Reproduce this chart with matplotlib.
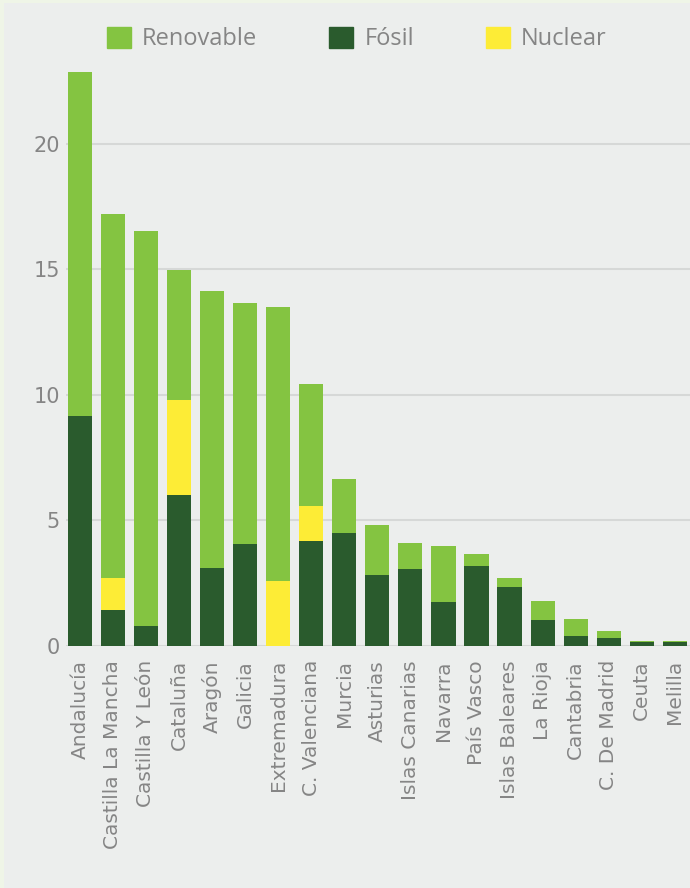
import matplotlib
matplotlib.use("Agg")
import matplotlib.pyplot as plt
from matplotlib.patches import Patch, Rectangle

regiones = ["Andalucía", "Castilla La Mancha", "Castilla Y León", "Cataluña",
            "Aragón", "Galicia", "Extremadura", "C. Valenciana", "Murcia",
            "Asturias", "Islas Canarias", "Navarra", "País Vasco",
            "Islas Baleares", "La Rioja", "Cantabria", "C. De Madrid",
            "Ceuta", "Melilla"]
fosil = [9.15, 1.41, 0.76, 5.98, 3.10, 4.05, 0.0, 4.18, 4.49, 2.80, 3.03,
         1.74, 3.18, 2.34, 1.02, 0.39, 0.31, 0.15, 0.15]
nuclear = [0, 1.26, 0, 3.82, 0, 0, 2.55, 1.36, 0, 0, 0, 0, 0, 0, 0, 0, 0, 0, 0]
renovable = [13.68, 14.54, 15.77, 5.18, 11.02, 9.60, 10.94, 4.88, 2.16, 2.02,
             1.07, 2.24, 0.48, 0.33, 0.77, 0.65, 0.25, 0.01, 0.01]

c_renov = "#84c441"
c_fosil = "#2a5b2d"
c_nuc = "#fdec36"
gris = "#858585"

fig = plt.figure(figsize=(6.9, 8.88), dpi=100)
fig.patch.set_facecolor("#eff5e7")
fig.patches.append(Rectangle((4 / 690, 0), 1, 1 - 3 / 888, transform=fig.transFigure,
                             facecolor="#eceeed", edgecolor="none", zorder=-5))

ax = fig.add_axes([66 / 690, 1 - 645.5 / 888, 1 - 66 / 690, (645.5 - 60) / 888])
ax.set_facecolor("none")

x = list(range(len(regiones)))
base2 = [f + n for f, n in zip(fosil, nuclear)]
ax.bar(x, fosil, width=0.73, color=c_fosil, zorder=3)
ax.bar(x, nuclear, width=0.73, bottom=fosil, color=c_nuc, zorder=3)
ax.bar(x, renovable, width=0.73, bottom=base2, color=c_renov, zorder=3)

ax.set_xlim(-0.42, 18.46)
ax.set_ylim(0, (645.5 - 60) / 25.1)
ax.set_yticks([0, 5, 10, 15, 20])
ax.yaxis.grid(True, color="#d6d8d7", linewidth=1.5, zorder=1)
ax.set_axisbelow(True)
for s in ax.spines.values():
    s.set_visible(False)

ax.set_xticks(x)
ax.set_xticklabels(regiones, rotation=90, fontsize=14.5, color=gris,
                   family="DejaVu Sans")
ax.tick_params(axis="x", length=0, pad=10.5)
ax.tick_params(axis="y", length=0, pad=4.5, labelsize=15, labelcolor=gris)

handles = [Patch(color=c_renov, label="Renovable"),
           Patch(color=c_fosil, label="Fósil"),
           Patch(color=c_nuc, label="Nuclear")]
leg = fig.legend(handles=handles, loc="center", bbox_to_anchor=(0.517, 0.956),
                 ncol=3, frameon=False, handlelength=1.02, handleheight=1.02,
                 handletextpad=0.47, columnspacing=3.05, borderpad=0,
                 prop={"family": "Open Sans", "size": 17, "weight": "medium"})
for t in leg.get_texts():
    t.set_color(gris)

fig.savefig("out.png", dpi=100, facecolor=fig.get_facecolor())
